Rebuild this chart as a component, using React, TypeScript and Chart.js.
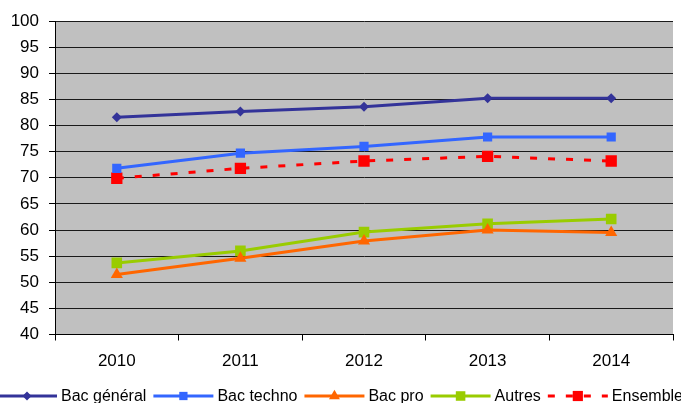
import React, { useEffect, useRef } from "react";
import { Chart, registerables } from "chart.js";

Chart.register(...registerables);

const years = ["2010", "2011", "2012", "2013", "2014"];
const bacGeneral = [81.6, 82.7, 83.6, 85.2, 85.2];
const bacTechno = [71.8, 74.7, 76.0, 77.8, 77.8];
const bacPro = [51.5, 54.6, 57.9, 60.0, 59.5];
const autres = [53.7, 56.0, 59.6, 61.2, 62.1];
const ensemble = [69.9, 71.8, 73.2, 74.1, 73.2];
const seriesNames = ["Bac général", "Bac techno", "Bac pro", "Autres", "Ensemble"];

const FONT = "'Liberation Sans', Arial, sans-serif";

function drawMarker(ctx: CanvasRenderingContext2D, style: string, x: number, y: number, r: number, color: string) {
  ctx.save();
  ctx.fillStyle = color;
  ctx.beginPath();
  if (style === "rectRot") {
    ctx.moveTo(x, y - r);
    ctx.lineTo(x + r, y);
    ctx.lineTo(x, y + r);
    ctx.lineTo(x - r, y);
    ctx.closePath();
  } else if (style === "triangle") {
    const a = (2 * Math.PI) / 3;
    ctx.moveTo(x, y - r);
    ctx.lineTo(x + Math.sin(a) * r, y - Math.cos(a) * r);
    ctx.lineTo(x + Math.sin(2 * a) * r, y - Math.cos(2 * a) * r);
    ctx.closePath();
  } else {
    const s = r * Math.SQRT1_2;
    ctx.rect(x - s, y - s, 2 * s, 2 * s);
  }
  ctx.fill();
  ctx.restore();
}

const bgPlugin = {
  id: "plotBg",
  beforeDraw(chart: any) {
    const { ctx, chartArea } = chart;
    ctx.save();
    ctx.fillStyle = "#C0C0C0";
    ctx.fillRect(chartArea.left, chartArea.top, chartArea.right - chartArea.left, chartArea.bottom - chartArea.top);
    ctx.restore();
  },
};

const legendPlugin = {
  id: "lineLegend",
  afterDraw(chart: any) {
    const ctx: CanvasRenderingContext2D = chart.ctx;
    const y = 396;
    let x = -3;
    ctx.save();
    ctx.font = `16px ${FONT}`;
    ctx.textBaseline = "middle";
    chart.data.datasets.forEach((ds: any) => {
      const lineLen = 60;
      ctx.save();
      ctx.strokeStyle = ds.borderColor;
      ctx.lineWidth = 3;
      ctx.setLineDash(ds.borderDash || []);
      ctx.beginPath();
      ctx.moveTo(x, y);
      ctx.lineTo(x + lineLen, y);
      ctx.stroke();
      ctx.restore();
      drawMarker(ctx, ds.pointStyle, x + lineLen / 2, y, ds.pointRadius * 0.9, ds.pointBackgroundColor);
      ctx.fillStyle = "#000";
      ctx.textAlign = "left";
      ctx.fillText(ds.label, x + lineLen + 4, y + 1);
      x += lineLen + 4 + ctx.measureText(ds.label).width + 7;
    });
    ctx.restore();
  },
};

export default function App() {
  const ref = useRef<HTMLCanvasElement>(null);
  useEffect(() => {
    const mk = (label: string, data: number[], color: string, style: string, r: number, dash?: number[]) => ({
      label,
      data,
      borderColor: color,
      backgroundColor: color,
      pointBackgroundColor: color,
      pointBorderColor: color,
      pointBorderWidth: 0,
      pointStyle: style,
      pointRadius: r,
      borderWidth: 3,
      borderDash: dash,
      tension: 0,
      fill: false,
    });
    const chart = new Chart(ref.current!, {
      type: "line",
      data: {
        labels: years,
        datasets: [
          mk(seriesNames[0], bacGeneral, "#333399", "rectRot", 5),
          mk(seriesNames[1], bacTechno, "#3366FF", "rect", 6.5),
          mk(seriesNames[2], bacPro, "#FF6600", "triangle", 7),
          mk(seriesNames[3], autres, "#99CC00", "rect", 7.5),
          mk(seriesNames[4], ensemble, "#FF0000", "rect", 8, [7, 11]),
        ] as any,
      },
      options: {
        animation: false,
        responsive: true,
        maintainAspectRatio: false,
        layout: { padding: { top: 21, right: 8, bottom: 28.5, left: 0 } },
        plugins: { legend: { display: false }, tooltip: { enabled: false } },
        scales: {
          x: {
            offset: true,
            grid: { offset: true, drawOnChartArea: false, drawTicks: true, tickLength: 6, color: "#000" },
            border: { color: "#000", width: 1 },
            ticks: { color: "#000", font: { family: FONT, size: 17 }, padding: 11, maxRotation: 0 },
            afterFit: (s: any) => { s.height = 40; },
          },
          y: {
            min: 40,
            max: 100,
            ticks: { stepSize: 5, color: "#000", font: { family: FONT, size: 17 }, padding: 10 },
            grid: { color: "#1a1a1a", lineWidth: 1, tickLength: 6, tickColor: "#000" },
            border: { color: "#000", width: 1 },
            afterFit: (s: any) => { s.width = 55; },
          },
        },
      },
      plugins: [bgPlugin, legendPlugin],
    });
    return () => chart.destroy();
  }, []);
  return (
    <div style={{ position: "fixed", left: 0, top: 0, width: 681, height: 403, background: "#fff" }}>
      <canvas ref={ref} />
    </div>
  );
}
